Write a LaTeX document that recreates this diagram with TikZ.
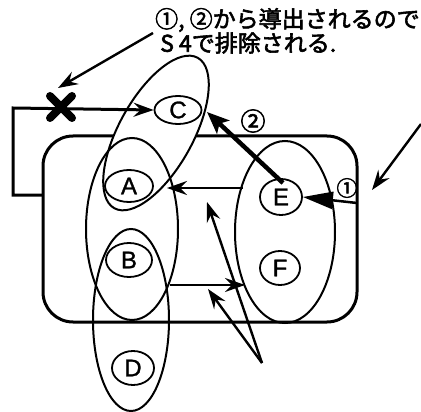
\documentclass[tikz,border=0pt]{standalone}
\usepackage{fontspec}
\setmainfont{Liberation Sans}
\newfontfamily\lt[FakeBold=1.2]{Liberation Sans}
\newfontfamily\jp[AutoFakeBold=2.5]{Noto Sans CJK JP}
\usetikzlibrary{arrows.meta,shapes.geometric,calc}
\begin{document}
\begin{tikzpicture}[x=1pt,y=-1pt,
  lbl/.style={draw, ellipse, line width=1.8pt, fill=white, inner sep=0pt, font=\lt\fontsize{24}{24}\selectfont},
  big/.style={line width=2pt},
  arr/.style={line width=2.4pt, -{Stealth[length=20pt,width=14pt,inset=7pt]}},
  jtext/.style={anchor=west, inner sep=0pt, font=\jp\bfseries\fontsize{23}{23}\selectfont},
]
\useasboundingbox (0,0) rectangle (421,412);
% frame
\draw[line width=3pt, rounded corners=30pt] (43,136) rectangle (357,322);
% big groups
\draw[big, fill=white, rotate around={61:(156,133)}] (156,133) ellipse [x radius=86, y radius=37];
\draw[big] (132,229) ellipse [x radius=46, y radius=91];
\draw[big] (131,320) ellipse [x radius=38, y radius=91];
\draw[big] (285,232) ellipse [x radius=50, y radius=91];
% nodes
\node[lbl, minimum width=47pt, minimum height=28pt] (C) at (178,110) {C};
\node[lbl, minimum width=48pt, minimum height=32pt] (A) at (129,186) {A};
\node[lbl, minimum width=46pt, minimum height=34pt] (B) at (129,260) {B};
\node[lbl, minimum width=42pt, minimum height=36pt] (E) at (281,197) {E};
\node[lbl, minimum width=40pt, minimum height=34pt] (F) at (280,268) {F};
\node[lbl, minimum width=42pt, minimum height=34pt] (D) at (133,368) {D};
% texts
\node[jtext] (t1) at (155,20) {①, ②から導出されるので};
\node[jtext] (t2) at (160,43) {S 4で排除される.};
\node[inner sep=0pt, font=\jp\bfseries\fontsize{25}{25}\selectfont] (c2) at (253,121) {②};
\node[inner sep=0pt, font=\jp\bfseries\fontsize{21}{21}\selectfont] (c1) at (347,188) {①};
% coordinates
\coordinate (L0) at (43,195);
\coordinate (L1) at (13,195);
\coordinate (L2) at (13,108);
\coordinate (X) at (61,107);
\coordinate (T0) at (153,33);
\coordinate (Xt) at (58,88);
\coordinate (Es) at (283,183);
\coordinate (Ct) at (207,112);
\coordinate (R1) at (357,203);
\coordinate (EF1) at (243,188);
\coordinate (CA1) at (167,188);
\coordinate (BD1) at (170,285);
\coordinate (EF2) at (245,285);
\coordinate (P) at (262,363);
\coordinate (Q1) at (207,202);
\coordinate (Q2) at (208,289);
\coordinate (TR0) at (421,124);
\coordinate (TR1) at (372,190);
% connectors
\draw[line width=3pt, -{Stealth[length=20pt,width=14pt,inset=7pt]}] (L0) -- (L1) -- (L2) -- (C.west);
\draw[line width=8pt, line cap=round] ($(X)+(-11,-11)$) -- ($(X)+(11,11)$) ($(X)+(-11,11)$) -- ($(X)+(11,-11)$);
\draw[arr] (T0) -- (Xt);
\draw[line width=4.5pt, -{Stealth[length=22pt,width=18pt,inset=5pt]}] (Es) -- (Ct);
\draw[line width=2.5pt, -{Triangle[length=30pt,width=17pt]}] (R1) -- (E.east);
\draw[arr] (EF1) -- (CA1);
\draw[arr] (BD1) -- (EF2);
\draw[arr] (P) -- (Q1);
\draw[arr] (P) -- (Q2);
\draw[arr] (TR0) -- (TR1);
\end{tikzpicture}
\end{document}
